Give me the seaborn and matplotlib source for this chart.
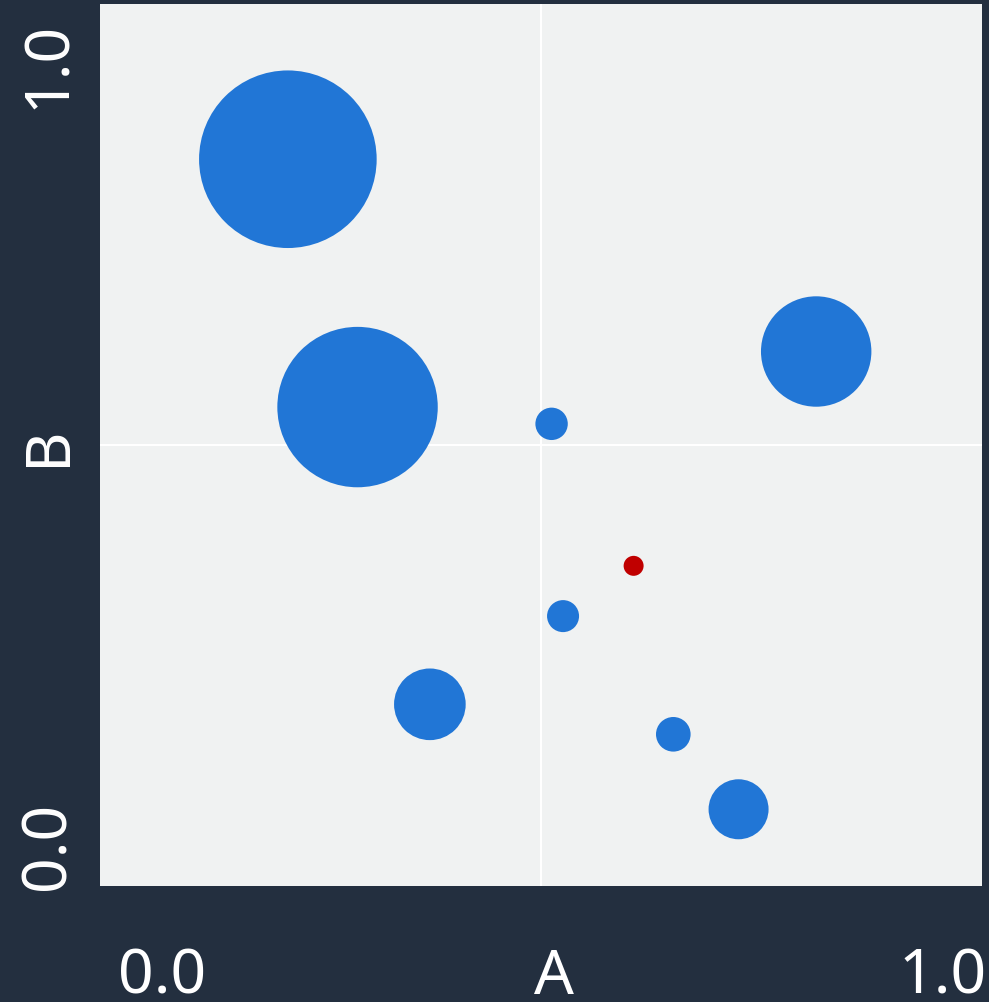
import pandas as pd
import seaborn as sns
import matplotlib.pyplot as plt
from matplotlib.transforms import ScaledTranslation

# point data
a_vals = [0.213, 0.292, 0.812, 0.512, 0.605, 0.525, 0.374, 0.650, 0.724]
b_vals = [0.824, 0.543, 0.606, 0.524, 0.363, 0.306, 0.206, 0.172, 0.087]
sizes = [16350, 13340, 6320, 544, 207, 531, 2660, 621, 1866]
kind = ['blue', 'blue', 'blue', 'blue', 'red', 'blue', 'blue', 'blue', 'blue']
tick_labels = ['0.0', '1.0']

bg = '#232f3f'
face = '#f0f2f2'
palette = {'blue': '#2176d6', 'red': '#c00000'}

df = pd.DataFrame({'A': a_vals, 'B': b_vals, 'size': sizes, 'kind': kind})

sns.set_style('white', {'axes.facecolor': face, 'figure.facecolor': bg})
plt.rcParams['font.family'] = ['Noto Sans', 'DejaVu Sans']

fig = plt.figure(figsize=(9.89, 10.03), dpi=100)
ax = fig.add_axes([100 / 989, 116 / 1003, 882 / 989, 882 / 1003])

sns.scatterplot(data=df, x='A', y='B', size='size', hue='kind', palette=palette,
                sizes=(0, 20000), size_norm=(0, 20000), linewidth=0,
                alpha=1, legend=False, ax=ax, zorder=3)

ax.set_xlim(0, 1)
ax.set_ylim(0, 1)
for s in ax.spines.values():
    s.set_visible(False)

# grid only at the middle
ax.set_xticks([0.5], minor=True)
ax.set_yticks([0.5], minor=True)
ax.grid(which='minor', color='white', linewidth=1.5, zorder=1)
ax.grid(which='major', visible=False)
ax.tick_params(which='minor', length=0)

fs = 45
ax.set_xticks([0, 1], tick_labels)
ax.set_yticks([0, 1], tick_labels)
ax.tick_params(axis='x', length=0, pad=42.5, labelsize=fs, labelcolor='white')
ax.tick_params(axis='y', length=0, pad=14.4, labelsize=fs, labelcolor='white')

dpi = fig.dpi
xl = ax.get_xticklabels()
xl[0].set_ha('left')
xl[0].set_transform(xl[0].get_transform() + ScaledTranslation(18 / dpi, 0, fig.dpi_scale_trans))
xl[1].set_ha('right')
xl[1].set_transform(xl[1].get_transform() + ScaledTranslation(5 / dpi, 0, fig.dpi_scale_trans))

yl = ax.get_yticklabels()
for t in yl:
    t.set_rotation(90)
yl[0].set_va('bottom')
yl[0].set_transform(yl[0].get_transform() + ScaledTranslation(0, -3 / dpi, fig.dpi_scale_trans))
yl[1].set_va('top')
yl[1].set_transform(yl[1].get_transform() + ScaledTranslation(0, -16 / dpi, fig.dpi_scale_trans))

ax.set_xlabel('A', fontsize=fs, color='white')
ax.set_ylabel('B', fontsize=fs, color='white')
ax.xaxis.set_label_coords(0.5147, -0.068)
ax.yaxis.set_label_coords(-0.0227, 0.5)

fig.savefig('out.png', dpi=100, facecolor=bg)
